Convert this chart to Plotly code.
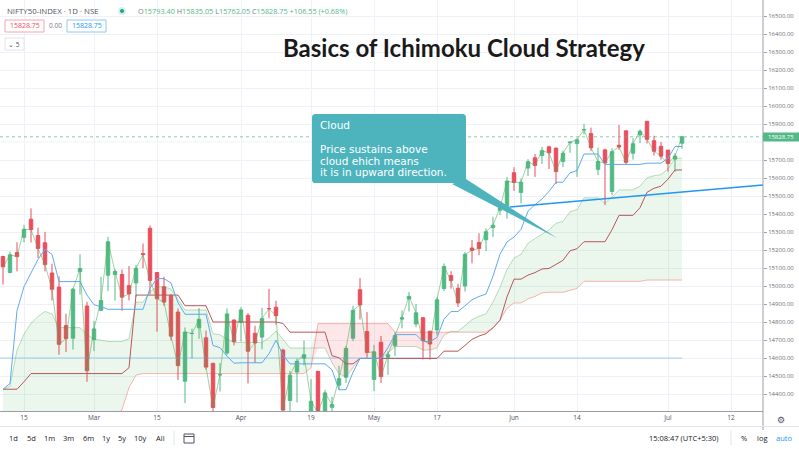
import numpy as np
import plotly.graph_objects as go

W, H = 799, 449

# ---- data: NIFTY50 daily bars, 10 Feb 2021 .. 5 Jul 2021 (bar index 0 = 10 Feb) ----
tick_bars = [3, 13, 22, 34, 44, 53, 62, 73, 82, 95, 104]
tick_labels = ['15', 'Mar', '15', 'Apr', '19', 'May', '17', 'Jun', '14', 'Jul', '12']
price_ticks = [14400, 14500, 14600, 14700, 14800, 14900, 15000, 15100, 15200, 15300, 15400, 15500,
               15600, 15700, 15900, 16000, 16100, 16200, 16300, 16400, 16500]

opens = [15164, 15075, 15186, 15270, 15371, 15280, 15240, 15072, 14994, 14780, 14710, 15080, 14889,
         14702, 14865, 15060, 15064, 15064, 15002, 15017, 15180, 15321, 15075, 14996, 14946, 14855,
         14471, 14736, 14768, 14712, 14570, 14506, 14628, 14811, 14798, 14837, 14737, 14716, 14875,
         14882, 14644, 14364, 14522, 14599, 14306, 14526, 14219, 14326, 14449, 14493, 14710, 14979,
         14747, 14481, 14687, 14604, 14668, 14816, 14928, 14789, 14824, 14749, 14756, 14986, 15058,
         14987, 15000, 15211, 15242, 15257, 15324, 15421, 15437, 15629, 15520, 15655, 15712, 15725,
         15773, 15766, 15692, 15796, 15791, 15867, 15847, 15648, 15756, 15525, 15782, 15862, 15738,
         15839, 15915, 15807, 15776, 15755, 15705, 15793.4]
highs = [15168, 15191, 15243, 15340, 15431, 15324, 15301, 15124, 15054, 14846, 14990, 15176, 14912,
         14806, 15051, 15273, 15092, 15092, 15111, 15117, 15236, 15336, 15075, 15051, 14956, 14875,
         14770, 14763, 14878, 14752, 14575, 14572, 14876, 14813, 14883, 14849, 14779, 14879, 14984,
         14918, 14652, 14528, 14597, 14697, 14483, 14528, 14424, 14384, 14557, 14667, 14890, 15044,
         14855, 14673, 14723, 14637, 14743, 14864, 14967, 14900, 14824, 14749, 14938, 15125, 15082,
         15012, 15189, 15256, 15293, 15319, 15384, 15469, 15606, 15660, 15597, 15705, 15733, 15773,
         15779, 15768, 15752, 15800, 15823, 15901, 15880, 15769, 15763, 15765, 15895, 15862, 15821,
         15870, 15915, 15835, 15800, 15755, 15738, 15835.05]
lows = [15008, 15070, 15081, 15243, 15242, 15156, 15081, 14920, 14618, 14634, 14647, 14952, 14468,
        14638, 14864, 14972, 14919, 14862, 14920, 14940, 15099, 14954, 14746, 14890, 14697, 14478,
        14350, 14597, 14707, 14535, 14264, 14414, 14617, 14670, 14692, 14459, 14573, 14649, 14821,
        14785, 14248, 14151, 14353, 14559, 14191, 14273, 14151, 14273, 14421, 14461, 14694, 14814,
        14602, 14416, 14461, 14506, 14611, 14765, 14858, 14771, 14592, 14591, 14725, 14973, 14985,
        14884, 14969, 15126, 15171, 15194, 15272, 15394, 15374, 15528, 15459, 15611, 15606, 15678,
        15650, 15566, 15660, 15740, 15606, 15842, 15749, 15616, 15450, 15505, 15757, 15673, 15702,
        15794, 15792, 15725, 15702, 15635, 15635, 15762.05]
closes = [15106.5, 15173.3, 15163.3, 15314.7, 15313.45, 15208.9, 15118.95, 14981.75, 14675.7, 14707.8,
          14982.0, 15097.35, 14529.15, 14761.55, 14919.1, 15245.6, 15080.75, 14938.1, 14956.2, 15098.4,
          15174.8, 15030.95, 14929.5, 14910.45, 14721.3, 14557.85, 14744.0, 14736.4, 14814.75, 14549.4,
          14324.9, 14507.3, 14845.1, 14690.7, 14867.35, 14637.8, 14683.5, 14819.05, 14873.8, 14834.85,
          14310.8, 14504.8, 14581.45, 14617.85, 14359.45, 14296.4, 14406.15, 14341.35, 14485.0, 14653.05,
          14864.55, 14894.9, 14631.1, 14634.15, 14496.5, 14617.85, 14724.8, 14823.15, 14942.35, 14850.75,
          14696.5, 14677.8, 14923.15, 15108.1, 15030.15, 14906.05, 15175.3, 15197.7, 15208.45, 15301.45,
          15337.85, 15435.65, 15582.8, 15574.85, 15576.2, 15690.35, 15670.25, 15751.65, 15740.1, 15635.35,
          15737.75, 15799.35, 15811.85, 15869.25, 15767.55, 15691.4, 15683.35, 15746.5, 15772.75, 15686.95,
          15790.45, 15860.35, 15814.7, 15748.45, 15721.5, 15680.0, 15722.2, 15828.75]

# Ichimoku lines (conversion, base, leading A, leading B)
tenkan = [14426.5, 14459, 14863, 14996, 15072.5, 15147.5, 15204, 15175.5, 15024.5, 15024.5, 15024.5,
          15024.5, 14949.5, 14896, 14884.5, 14870.5, 14870.5, 14870.5, 14870.5, 14870.5, 14870.5, 14987,
          15041, 15041, 15016.5, 14907, 14843, 14843, 14843, 14843, 14669.5, 14657.5, 14610, 14571,
          14573.5, 14573.5, 14573.5, 14573.5, 14624, 14699, 14616, 14567.5, 14567.5, 14567.5, 14567.5,
          14567.5, 14567.5, 14534.5, 14424, 14424, 14520.5, 14597.5, 14597.5, 14597.5, 14597.5, 14658.5,
          14730, 14730, 14730, 14730, 14691.5, 14691.5, 14714, 14815.5, 14858, 14858, 14890, 14923.5,
          14942, 14955, 15054.5, 15176.5, 15245, 15272, 15314.5, 15415.5, 15452, 15483.5, 15525.5,
          15576.5, 15576.5, 15629.5, 15641, 15733.5, 15733.5, 15733.5, 15675.5, 15675.5, 15675.5,
          15675.5, 15675.5, 15675.5, 15682.5, 15682.5, 15682.5, 15710, 15775, 15775]
kijun = [14426.5, 14426.5, 14426.5, 14468] + [14513.5] * 14 + [14546] + [14949.5] * 7 + [14890.5] * 4 + \
        [14800] * 10 + [14792] + [14743.5] * 6 + [14613, 14601, 14567.5, 14567.5] + [14597.5] * 12 + \
        [14638] * 3 + [14670, 14703.5, 14722, 14735, 14767.5, 14810, 14939.5, 15038, 15038, 15060.5,
                       15074.5, 15094.5, 15097.5, 15120, 15142.5, 15195.5, 15207] + [15246] * 4 + \
        [15313, 15392.5, 15392.5, 15392.5, 15435, 15520.5, 15543, 15554.5, 15593.5, 15644.5, 15644.5]
span_a = [14426.5, 14442.75, 14644.75, 14732, 14793, 14830.5, 14858.75, 14844.5, 14769, 14769, 14769,
          14769, 14731.5, 14704.75, 14699, 14692, 14692, 14692, 14708.25, 14910, 14910, 14968.25,
          14995.25, 14995.25, 14983, 14928.25, 14866.75, 14866.75, 14866.75, 14866.75, 14734.75,
          14728.75, 14705, 14685.5, 14686.75, 14686.75, 14686.75, 14686.75, 14712, 14749.5, 14704,
          14655.5, 14655.5, 14655.5, 14655.5, 14655.5, 14655.5, 14573.75, 14512.5, 14495.75, 14544,
          14597.5, 14597.5, 14597.5, 14597.5, 14628, 14663.75, 14663.75, 14663.75, 14663.75, 14644.5,
          14644.5, 14655.75, 14726.75, 14748, 14748, 14780, 14813.5, 14832, 14845, 14911, 14993.25,
          15092.25, 15155, 15176.25, 15238, 15263.25, 15289, 15311.5, 15348.25, 15359.5, 15412.5,
          15424, 15489.75, 15489.75, 15489.75, 15460.75, 15494.25, 15534, 15534, 15534, 15555.25,
          15601.5, 15612.75, 15618.5, 15651.75, 15709.75, 15709.75]
span_b = [14023.5, 14085.5, 14109.5, 14161.5, 14269] + [14281] * 12 + [14311.5, 14435.5, 14505.5] + \
         [14513.5] * 24 + [14546] + [14791] * 11 + [14743.5] * 14 + \
         [14767.5, 14810, 14878.5, 14905.5, 14905.5, 14928, 14942, 14962] + [14965] * 3 + \
         [14975.5, 14987] + [15026] * 9 + [15033] * 6

# drawings on the chart (data coordinates: bar index, price)
hline_price = 14600
trend_x = [72.4, 108.6]
trend_y = [15439, 15561]
last_price = 15828.75
hidden_grid_price = 15800
callout_box = dict(x0=44.14, x1=66.14, y0=15572, y1=15956)
callout_tail = [(64.14, 15567), (66.14, 15594), (79.14, 15267)]

UP, DN = '#53b987', '#eb4d5c'
FONT = 'Open Sans'
GRID = '#eef2f8'

x = np.arange(len(closes))
sa, sb = np.array(span_a), np.array(span_b)

fig = go.Figure()
common = dict(mode='lines', hoverinfo='skip', showlegend=False)
fig.add_trace(go.Scatter(x=x, y=sb, line=dict(width=0), **common))
fig.add_trace(go.Scatter(x=x, y=np.maximum(sa, sb), line=dict(width=0), fill='tonexty',
                         fillcolor='rgba(76,175,80,0.11)', **common))
fig.add_trace(go.Scatter(x=x, y=sb, line=dict(width=0), **common))
fig.add_trace(go.Scatter(x=x, y=np.minimum(sa, sb), line=dict(width=0), fill='tonexty',
                         fillcolor='rgba(242,54,69,0.12)', **common))
fig.add_trace(go.Scatter(x=x, y=sa, line=dict(width=1, color='rgba(67,160,71,0.35)'), **common))
fig.add_trace(go.Scatter(x=x, y=sb, line=dict(width=1, color='rgba(244,67,54,0.38)'), **common))
fig.add_trace(go.Scatter(x=[x[0] - 1, x[-1]], y=[hline_price, hline_price],
                         line=dict(width=1, color='rgba(100,170,230,0.55)'), **common))
fig.add_trace(go.Scatter(x=x, y=kijun, line=dict(width=1, color='#b8585a'), **common))
fig.add_trace(go.Scatter(x=x, y=tenkan, line=dict(width=1, color='#5eaaf0'), **common))
fig.add_trace(go.Scatter(x=x, y=closes, line=dict(width=1, color='rgba(76,175,80,0.55)'), **common))
fig.add_trace(go.Candlestick(x=x, open=opens, high=highs, low=lows, close=closes,
                             increasing=dict(line=dict(color=UP, width=1), fillcolor=UP),
                             decreasing=dict(line=dict(color=DN, width=1), fillcolor=DN),
                             whiskerwidth=0, hoverinfo='skip', showlegend=False))

XR = [-3 / 7, 760 / 7]
YR = [15000 - 125 / 0.18, 15000 + 286 / 0.18]
fig.update_layout(
    width=W, height=H, margin=dict(l=0, r=0, t=0, b=0), autosize=False,
    paper_bgcolor='white', plot_bgcolor='white', showlegend=False,
    xaxis=dict(domain=[0, 763 / W], range=XR, tickvals=tick_bars, ticktext=tick_labels,
               showgrid=True, gridcolor=GRID, gridwidth=1, zeroline=False, ticks='',
               showline=True, linecolor='#9a9da6', linewidth=1, rangeslider=dict(visible=False),
               tickfont=dict(family=FONT, size=6.5, color='#50535e'), automargin=False),
    yaxis=dict(domain=[38 / H, 1], range=YR, side='right', tickvals=price_ticks,
               ticktext=[f'{p:.2f}' for p in price_ticks],
               showgrid=True, gridcolor=GRID, zeroline=False, ticks='outside', ticklen=3,
               tickcolor='#a0a3ac', showline=False,
               tickfont=dict(family=FONT, size=6, color='#6a6d78'), automargin=False),
)


def X(p):
    return p / W


def Y(p):
    return 1 - p / H


shapes = []
# grid line hidden behind the last price tag
shapes.append(dict(type='line', xref='x domain', yref='y', x0=0, x1=1, y0=hidden_grid_price,
                   y1=hidden_grid_price, line=dict(color=GRID, width=1), layer='below'))
# trend line and price line
shapes.append(dict(type='line', xref='x', yref='y', x0=trend_x[0], y0=trend_y[0], x1=trend_x[1],
                   y1=trend_y[1], line=dict(color='#2196f3', width=1.4)))
shapes.append(dict(type='line', xref='x domain', yref='y', x0=0, x1=1, y0=last_price, y1=last_price,
                   line=dict(color='rgba(83,185,135,0.7)', width=1, dash='dot')))
# callout
bx0, bx1, by0, by1 = callout_box['x0'], callout_box['x1'], callout_box['y0'], callout_box['y1']
rx, ry = 0.5, 20
path = (f"M {bx0+rx},{by0} L {bx1-rx},{by0} Q {bx1},{by0} {bx1},{by0+ry} L {bx1},{by1-ry} "
        f"Q {bx1},{by1} {bx1-rx},{by1} L {bx0+rx},{by1} Q {bx0},{by1} {bx0},{by1-ry} "
        f"L {bx0},{by0+ry} Q {bx0},{by0} {bx0+rx},{by0} Z")
shapes.append(dict(type='path', xref='x', yref='y', path=path, fillcolor='#4db4be',
                   line=dict(width=0), layer='above'))
tp = callout_tail
shapes.append(dict(type='path', xref='x', yref='y',
                   path=f"M {tp[0][0]},{tp[0][1]} L {tp[1][0]},{tp[1][1]} L {tp[2][0]},{tp[2][1]} Z",
                   fillcolor='#4db4be', line=dict(width=0), layer='above'))
# axis frame lines
shapes.append(dict(type='line', xref='paper', yref='paper', x0=X(763), x1=X(763), y0=Y(0), y1=Y(430),
                   line=dict(color='#9a9da6', width=1)))
shapes.append(dict(type='line', xref='paper', yref='paper', x0=0, x1=1, y0=Y(426.5), y1=Y(426.5),
                   line=dict(color='#e0e3eb', width=1)))
# last price tag
shapes.append(dict(type='rect', xref='paper', yref='paper', x0=X(763), x1=X(799), y0=Y(141.5),
                   y1=Y(132.5), fillcolor='#53b987', line=dict(width=0), layer='above'))
# legend boxes
shapes.append(dict(type='rect', xref='paper', yref='paper', x0=X(5), x1=X(44), y0=Y(32), y1=Y(20),
                   line=dict(color='#f5a3aa', width=1), fillcolor='white', layer='above'))
shapes.append(dict(type='rect', xref='paper', yref='paper', x0=X(67), x1=X(106), y0=Y(32), y1=Y(20),
                   line=dict(color='#90c8f6', width=1), fillcolor='white', layer='above'))
shapes.append(dict(type='rect', xref='paper', yref='paper', x0=X(5), x1=X(24), y0=Y(50), y1=Y(38),
                   line=dict(color='#e0e3eb', width=1), fillcolor='white', layer='above'))
shapes.append(dict(type='circle', xref='paper', yref='paper', x0=X(118), x1=X(126), y0=Y(15), y1=Y(7),
                   line=dict(width=0), fillcolor='#d6efec', layer='above'))
shapes.append(dict(type='circle', xref='paper', yref='paper', x0=X(120), x1=X(124), y0=Y(13), y1=Y(9),
                   line=dict(width=0), fillcolor='#22a08f', layer='above'))
# toolbar separators and calendar icon
for sx in (174, 731):
    shapes.append(dict(type='line', xref='paper', yref='paper', x0=X(sx), x1=X(sx), y0=Y(431), y1=Y(445),
                       line=dict(color='#e0e3eb', width=1)))
shapes.append(dict(type='rect', xref='paper', yref='paper', x0=X(184), x1=X(194), y0=Y(443), y1=Y(434),
                   line=dict(color='#50535e', width=1)))
shapes.append(dict(type='line', xref='paper', yref='paper', x0=X(184), x1=X(194), y0=Y(436.5), y1=Y(436.5),
                   line=dict(color='#50535e', width=1)))
fig.update_layout(shapes=shapes)

ann = []


def txt(px, py, s, size=8, color='#131722', anchor='left', family=FONT, bold=False):
    if bold:
        s = f'<b>{s}</b>'
    ann.append(dict(x=X(px), y=Y(py), xref='paper', yref='paper', text=s, showarrow=False,
                    xanchor=anchor, yanchor='middle', font=dict(size=size, color=color, family=family)))


txt(5, 11, 'NIFTY50-INDEX · 1D · NSE', 7.8, '#50535e')
ohlc = (f"<span style='color:#787b86'>O</span>15793.40 <span style='color:#787b86'>H</span>15835.05 "
        f"<span style='color:#787b86'>L</span>15762.05 <span style='color:#787b86'>C</span>15828.75 "
        f"+106.55 (+0.68%)")
txt(136, 11, ohlc, 7.3, '#53b987')
txt(24.5, 26, '15828.75', 7, '#eb4d5c', 'center')
txt(55.5, 26, '0.00', 6.5, '#787b86', 'center')
txt(86.5, 26, '15828.75', 7, '#2196f3', 'center')
txt(14.5, 44, '⌄ 5', 6.5, '#50535e', 'center')
txt(464, 48, 'Basics of Ichimoku Cloud Strategy', 24, '#1a1a1a', 'center', 'Lato', True)
# callout text
txt(318, 125, 'Cloud', 10.5, 'white', family='DejaVu Sans')
txt(318, 149, 'Price sustains above', 10.5, 'white', family='DejaVu Sans')
txt(318, 160.5, 'cloud ehich means', 10.5, 'white', family='DejaVu Sans')
txt(318, 172, 'it is in upward direction.', 10.5, 'white', family='DejaVu Sans')
# last price label
txt(781, 137, f'{last_price:.2f}', 6, 'white', 'center')
# gear
txt(781, 420, '⚙', 9, '#50535e', 'center', 'DejaVu Sans')
# bottom toolbar
for lbl, cx in [('1d', 13), ('5d', 31), ('1m', 49), ('3m', 68), ('6m', 88), ('1y', 106), ('5y', 122),
                ('10y', 140), ('All', 160)]:
    txt(cx, 438, lbl, 7.5, '#131722', 'center')
txt(684, 438, '15:08:47 (UTC+5:30)', 7.5, '#131722', 'center')
txt(744, 438, '%', 7.5, '#131722', 'center')
txt(762, 438, 'log', 7.5, '#131722', 'center')
txt(784, 438, 'auto', 7.5, '#2196f3', 'center')
fig.update_layout(annotations=ann)

fig.write_html('out.html', config={'displayModeBar': False})
